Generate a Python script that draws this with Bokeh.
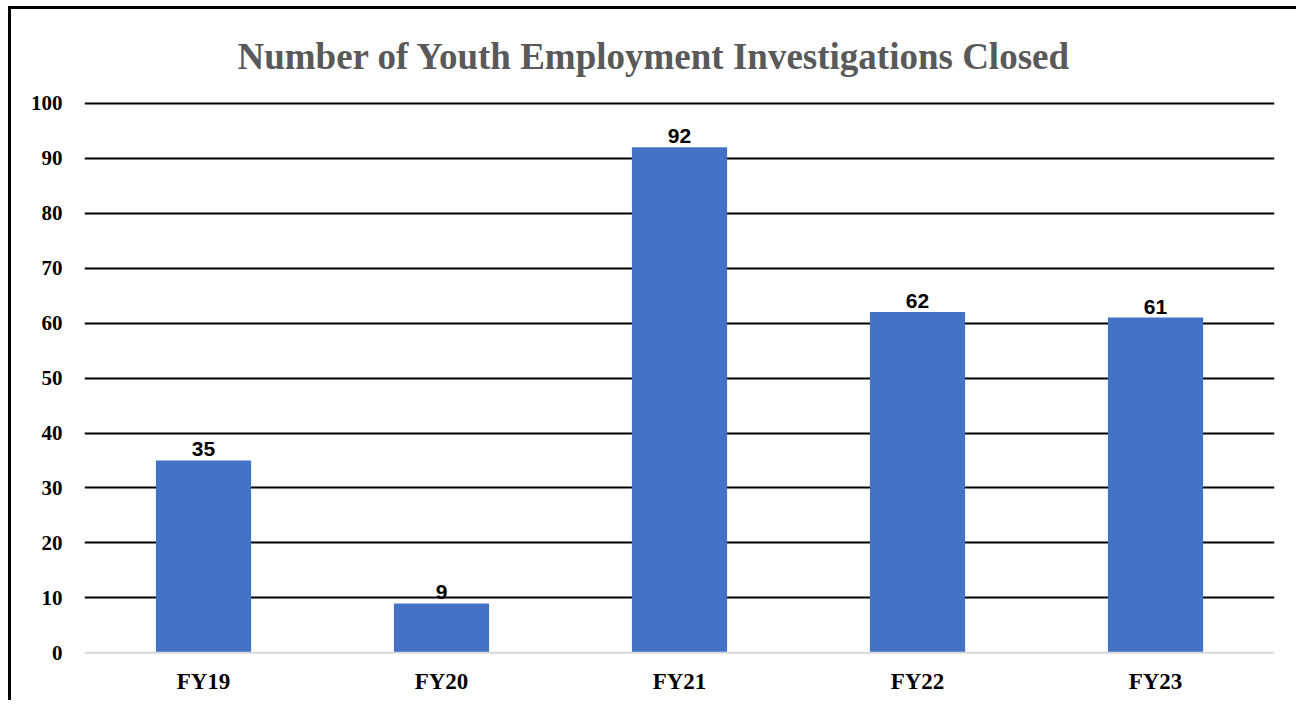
from bokeh.plotting import figure
from bokeh.models import ColumnDataSource, Range1d, FixedTicker, Span
from bokeh.embed import file_html
from bokeh.resources import INLINE

categories = ["FY19", "FY20", "FY21", "FY22", "FY23"]
values = [35, 9, 92, 62, 61]
y_ticks = [0, 10, 20, 30, 40, 50, 60, 70, 80, 90, 100]
title_text = "Number of Youth Employment Investigations Closed"

source = ColumnDataSource(dict(cat=categories, val=values, lbl=[str(v) for v in values]))

p = figure(x_range=categories, y_range=Range1d(-0.3, 100.5),
           width=1288, height=694, output_backend="svg", toolbar_location=None,
           min_border_left=73, min_border_right=25, min_border_top=91, min_border_bottom=49)
p.styles = {"margin-left": "8px", "margin-top": "6px",
            "border-left": "3px solid black", "border-top": "3px solid black"}
p.outline_line_color = None
p.background_fill_color = "white"
p.border_fill_color = "white"

p.title.text = title_text
p.title.align = "left"
p.title.text_font = "Liberation Serif"
p.title.text_font_style = "bold"
p.title.text_font_size = "37px"
p.title.text_color = "#595959"
p.title.text_line_height = 0.8
p.title.standoff = 47
p.title.offset = 153

p.vbar(x="cat", top="val", width=0.4, source=source, color="#4472C4", line_color=None)
p.text(x="cat", y="val", text="lbl", source=source, text_align="center", text_baseline="bottom",
       y_offset=-4, text_font_size="21px", text_font_style="bold", text_color="black",
       text_font={"value": "Liberation Sans"})

p.add_layout(Span(location=0, dimension="width", line_color="#d9d9d9", line_width=2))

p.xgrid.grid_line_color = None
p.ygrid.ticker = FixedTicker(ticks=y_ticks[1:])
p.ygrid.grid_line_color = "black"
p.ygrid.grid_line_width = 2

p.yaxis.ticker = FixedTicker(ticks=y_ticks)
for ax in (p.xaxis[0], p.yaxis[0]):
    ax.axis_line_color = None
    ax.major_tick_line_color = None
    ax.minor_tick_line_color = None
    ax.major_tick_out = 0
    ax.minor_tick_out = 0
    ax.major_label_text_font = "Liberation Serif"
    ax.major_label_text_font_style = "bold"
    ax.major_label_text_color = "black"
p.yaxis.major_label_text_font_size = "21px"
p.yaxis.major_label_standoff = 22
p.xaxis.major_label_text_font_size = "23px"
p.xaxis.major_label_standoff = 14

open("out.html", "w").write(file_html(p, INLINE))
